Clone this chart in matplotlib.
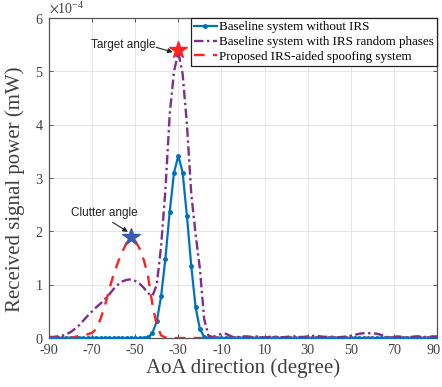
import numpy as np
import matplotlib
matplotlib.use("Agg")
import matplotlib.pyplot as plt
from matplotlib.transforms import ScaledTranslation

plt.rcParams['font.family'] = ['Liberation Serif', 'DejaVu Serif']
plt.rcParams['mathtext.fontset'] = 'stix'
plt.rcParams['axes.unicode_minus'] = False

# AoA grid (degrees), 2-degree steps
angles = np.arange(-90, 91, 2)

# Received power in units of 1e-4 mW
baseline_no_irs = [
    0, 0, 0, 0, 0, 0, 0, 0, 0, 0,                      # -90..-72
    0, 0, 0, 0, 0, 0, 0, 0, 0, 0,                      # -70..-52
    0, 0, 0, 0.01, 0.10, 0.31, 0.78, 1.49, 2.37, 3.10, # -50..-32
    3.42, 3.10, 2.28, 1.35, 0.58, 0.17, 0.02, 0, 0, 0, # -30..-12
    0, 0, 0, 0, 0, 0, 0, 0, 0, 0,                      # -10..8
    0, 0, 0, 0, 0, 0, 0, 0, 0, 0,                      # 10..28
    0, 0, 0, 0, 0, 0, 0, 0, 0, 0,                      # 30..48
    0, 0, 0, 0, 0, 0, 0, 0, 0, 0,                      # 50..68
    0, 0, 0, 0, 0, 0, 0, 0, 0, 0,                      # 70..88
    0,                                                 # 90
]
baseline_irs_random = [
    0.02, 0.02, 0.03, 0.04, 0.07, 0.11, 0.17, 0.24, 0.33, 0.42,
    0.50, 0.58, 0.65, 0.73, 0.82, 0.92, 1.00, 1.06, 1.09, 1.10,
    1.07, 1.02, 0.94, 0.84, 0.79, 1.00, 1.72, 2.77, 4.20, 5.00,
    5.36, 4.95, 4.00, 2.70, 1.95, 1.30, 0.35, 0.04, 0.02, 0.05,
    0.08, 0.08, 0.04, 0.01, 0.02, 0.03, 0.03, 0.02, 0.03, 0.02,
    0.01, 0.02, 0.03, 0.02, 0.01, 0.02, 0.03, 0.03, 0.02, 0.02,
    0.03, 0.04, 0.04, 0.03, 0.02, 0.03, 0.02, 0.01, 0.02, 0.03,
    0.04, 0.06, 0.08, 0.09, 0.09, 0.09, 0.08, 0.06, 0.03, 0.01,
    0.02, 0.03, 0.02, 0.01, 0.02, 0.03, 0.03, 0.02, 0.02, 0.03,
    0.03,
]
proposed_spoofing = [
    0, 0, 0, 0.01, 0.01, 0, 0.02, 0.04, 0.06, 0.07,
    0.10, 0.17, 0.37, 0.62, 0.92, 1.20, 1.42, 1.62, 1.78, 1.86,
    1.82, 1.68, 1.46, 1.14, 0.62, 0.24, 0.05, 0.01, 0, 0,
    0, 0, 0, 0, 0, 0, 0, 0.01, 0.01, 0,
    0, 0, 0, 0, 0, 0, 0, 0, 0, 0,
    0, 0, 0, 0, 0, 0, 0, 0, 0, 0,
    0, 0, 0, 0, 0, 0, 0, 0, 0, 0,
    0, 0, 0, 0, 0, 0, 0, 0, 0, 0,
    0, 0, 0, 0, 0, 0, 0, 0, 0, 0,
    0,
]
scale = 1e-4

target_angle, target_power = -30, 5.40
clutter_angle, clutter_power = -52, 1.90

labels = ['Baseline system without IRS',
          'Baseline system with IRS random phases',
          'Proposed IRS-aided spoofing system']
xticks = [-90, -70, -50, -30, -10, 10, 30, 50, 70, 90]
yticks = [0, 1, 2, 3, 4, 5, 6]

fig = plt.figure(figsize=(4.42, 3.87), dpi=100)
ax = fig.add_axes([49 / 442, 1 - 338 / 387, (437 - 49) / 442, (338 - 18) / 387])

blue = '#0072BD'
purple = '#7E2F8E'
red = '#FF2020'

ax.plot(angles, np.array(baseline_no_irs) * scale, color=blue, lw=1.6,
        marker='.', ms=5, label=labels[0], zorder=3)
ax.plot(angles, np.array(baseline_irs_random) * scale, color=purple, lw=1.7,
        dashes=(4, 1.5, 1, 1.5), label=labels[1], zorder=4)
ax.plot(angles, np.array(proposed_spoofing) * scale, color=red, lw=1.7,
        dashes=(4.5, 3.5), label=labels[2], zorder=5)

ax.plot([target_angle], [target_power * scale], marker='*', ms=13,
        color=red, mec=red, ls='none', zorder=6)
ax.plot([clutter_angle], [clutter_power * scale], marker='*', ms=13,
        color='#3A5AB0', mec='#3A5AB0', ls='none', zorder=6)

ann_font = dict(family=['Liberation Sans', 'DejaVu Sans'], size=8.5, color='#222222')
ax.text(-40.8, 5.50 * scale, 'Target angle', ha='right', va='center', **ann_font)
ax.annotate('', xy=(-32.6, 5.36 * scale), xytext=(-40.3, 5.45 * scale),
            arrowprops=dict(arrowstyle='-|>', color='#222222', lw=0.8,
                            mutation_scale=7, shrinkA=0, shrinkB=0))
ax.text(-64.4, 2.34 * scale, 'Clutter angle', ha='center', va='center', **ann_font)
ax.annotate('', xy=(-53.4, 1.99 * scale), xytext=(-60.5, 2.17 * scale),
            arrowprops=dict(arrowstyle='-|>', color='#222222', lw=0.8,
                            mutation_scale=7, shrinkA=0, shrinkB=0))

ax.set_xlim(-90, 90)
ax.set_ylim(0, 6e-4)
ax.set_xticks(xticks)
ax.set_yticks([v * scale for v in yticks])
ax.ticklabel_format(axis='y', style='sci', scilimits=(-4, -4), useMathText=True)
ax.yaxis.get_offset_text().set_fontsize(10)
ax.yaxis.get_offset_text().set_color('#404040')

ax.grid(True, color='#e3e3e3', lw=0.6)
ax.set_axisbelow(True)
ax.tick_params(direction='in', top=True, right=True, length=3, width=0.6,
               labelsize=10.2, colors='#404040', pad=4)
for s in ax.spines.values():
    s.set_color('#555555')
    s.set_linewidth(0.9)

ax.set_xlabel('AoA direction (degree)', fontsize=15, color='#404040', labelpad=1)
ax.set_ylabel('Received signal power (mW)', fontsize=15, color='#404040')
ax.yaxis.set_label_coords(-0.062, 0.466)

leg = ax.legend(loc='upper right', borderaxespad=0, fontsize=9.4, fancybox=False,
                edgecolor='#222222', framealpha=1, handlelength=1.75,
                handletextpad=0.15, borderpad=0.25, labelspacing=0.2)
leg.get_frame().set_linewidth(0.9)
leg.set_zorder(5)

# keep the last x tick label inside the figure edge
fig.canvas.draw()
last = ax.xaxis.get_major_ticks()[-1].label1
last.set_transform(last.get_transform() + ScaledTranslation(-3 / 100, 0, fig.dpi_scale_trans))

fig.savefig('out.png', dpi=100)
